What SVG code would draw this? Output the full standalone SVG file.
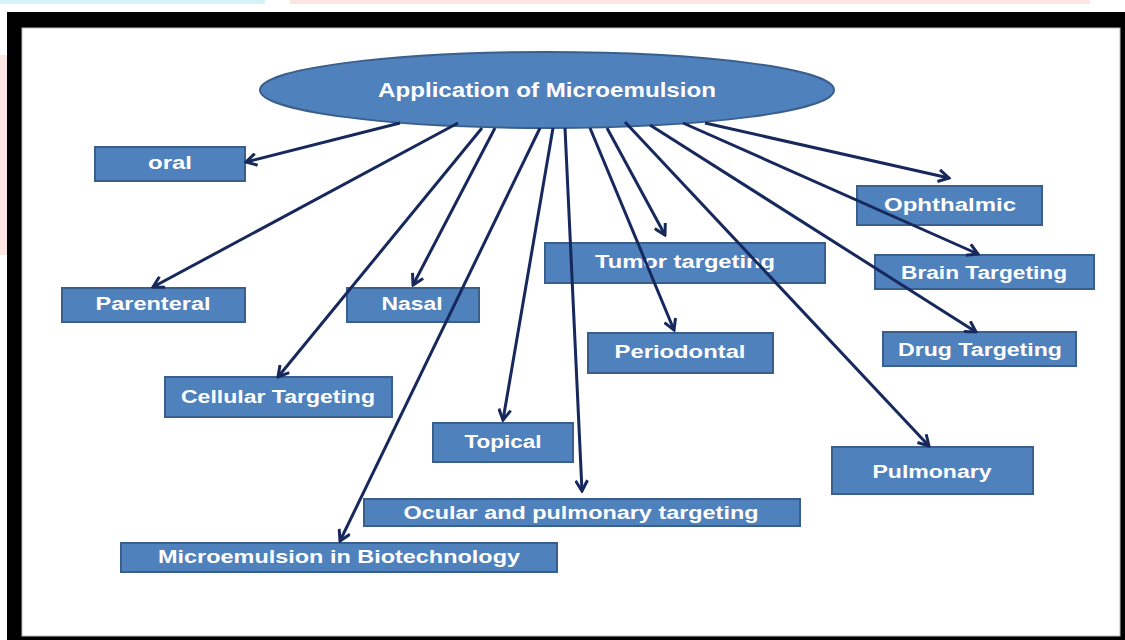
<svg xmlns="http://www.w3.org/2000/svg" width="1125" height="640" viewBox="0 0 1125 640">
  <defs>
    <style>
      .box { fill: #4F81BD; stroke: #3A5F8C; stroke-width: 2; }
      .lbl { font-family: "Liberation Sans", Arial, sans-serif; font-size: 18px; font-weight: bold; fill: #FFFFFF; text-anchor: middle; }
      .title { font-family: "Liberation Sans", Arial, sans-serif; font-size: 20px; font-weight: bold; fill: #FFFFFF; text-anchor: middle; }
      .conn { stroke: #16285C; stroke-width: 3; fill: none; marker-end: url(#arrow); }
    </style>
    <marker id="arrow" viewBox="0 0 14 14" refX="12" refY="7" markerWidth="14" markerHeight="14" markerUnits="userSpaceOnUse" orient="auto">
      <path d="M1.5,1 L12,7 L1.5,13" fill="none" stroke="#16285C" stroke-width="3" stroke-linejoin="miter"/>
    </marker>
  </defs>

  <!-- page background and frame -->
  <rect x="0" y="0" width="1125" height="640" fill="#FFFFFF"/>
  <rect x="0" y="0" width="265" height="4" fill="#D6F3FA"/>
  <rect x="290" y="0" width="800" height="4" fill="#FCE6E1"/>
  <rect x="0" y="55" width="7" height="200" fill="#FCE6E4"/>
  <rect x="7" y="12" width="1118" height="628" fill="#000000"/>
  <rect x="22" y="28" width="1098" height="608" fill="#FFFFFF" stroke="#BBBBBB" stroke-width="1"/>

  <g id="root">
    <ellipse cx="547" cy="90" rx="287" ry="38" class="box"/>
    <text x="547" y="97" class="title" textLength="338" lengthAdjust="spacingAndGlyphs">Application of Microemulsion</text>
  </g>

  <g id="oral">
    <rect x="95" y="147" width="150" height="34" class="box"/>
    <text x="170" y="169" class="lbl" textLength="44" lengthAdjust="spacingAndGlyphs">oral</text>
  </g>
  <g id="parenteral">
    <rect x="62" y="288" width="183" height="34" class="box"/>
    <text x="153" y="310" class="lbl" textLength="115" lengthAdjust="spacingAndGlyphs">Parenteral</text>
  </g>
  <g id="nasal">
    <rect x="347" y="288" width="132" height="34" class="box"/>
    <text x="412" y="310" class="lbl" textLength="61" lengthAdjust="spacingAndGlyphs">Nasal</text>
  </g>
  <g id="cellular">
    <rect x="165" y="377" width="227" height="40" class="box"/>
    <text x="278" y="403" class="lbl" textLength="194" lengthAdjust="spacingAndGlyphs">Cellular Targeting</text>
  </g>
  <g id="topical">
    <rect x="433" y="423" width="140" height="39" class="box"/>
    <text x="503" y="448" class="lbl" textLength="77" lengthAdjust="spacingAndGlyphs">Topical</text>
  </g>
  <g id="ocular">
    <rect x="364" y="499" width="436" height="27" class="box"/>
    <text x="581" y="519" class="lbl" textLength="355" lengthAdjust="spacingAndGlyphs">Ocular and pulmonary targeting</text>
  </g>
  <g id="biotech">
    <rect x="121" y="543" width="436" height="29" class="box"/>
    <text x="339" y="563" class="lbl" textLength="362" lengthAdjust="spacingAndGlyphs">Microemulsion in Biotechnology</text>
  </g>
  <g id="tumor">
    <rect x="545" y="243" width="280" height="40" class="box"/>
    <text x="685" y="268" class="lbl" textLength="180" lengthAdjust="spacingAndGlyphs">Tumor targeting</text>
  </g>
  <g id="periodontal">
    <rect x="588" y="333" width="185" height="40" class="box"/>
    <text x="680" y="358" class="lbl" textLength="131" lengthAdjust="spacingAndGlyphs">Periodontal</text>
  </g>
  <g id="ophthalmic">
    <rect x="857" y="186" width="185" height="39" class="box"/>
    <text x="950" y="211" class="lbl" textLength="132" lengthAdjust="spacingAndGlyphs">Ophthalmic</text>
  </g>
  <g id="brain">
    <rect x="875" y="255" width="219" height="34" class="box"/>
    <text x="984" y="279" class="lbl" textLength="166" lengthAdjust="spacingAndGlyphs">Brain Targeting</text>
  </g>
  <g id="drug">
    <rect x="883" y="332" width="193" height="34" class="box"/>
    <text x="980" y="356" class="lbl" textLength="164" lengthAdjust="spacingAndGlyphs">Drug Targeting</text>
  </g>
  <g id="pulmonary">
    <rect x="832" y="447" width="201" height="47" class="box"/>
    <text x="932" y="478" class="lbl" textLength="119" lengthAdjust="spacingAndGlyphs">Pulmonary</text>
  </g>

  <g id="connectors">
    <line x1="400" y1="123" x2="246" y2="162" class="conn"/>
    <line x1="458" y1="123" x2="153" y2="287" class="conn"/>
    <line x1="482" y1="128" x2="278" y2="377" class="conn"/>
    <line x1="495" y1="128" x2="413" y2="285" class="conn"/>
    <line x1="540" y1="128" x2="340" y2="541" class="conn"/>
    <line x1="553" y1="128" x2="503" y2="420" class="conn"/>
    <line x1="565" y1="128" x2="582" y2="491" class="conn"/>
    <line x1="590" y1="128" x2="674" y2="330" class="conn"/>
    <line x1="607" y1="128" x2="665" y2="235" class="conn"/>
    <line x1="625" y1="122" x2="929" y2="446" class="conn"/>
    <line x1="650" y1="125" x2="976" y2="332" class="conn"/>
    <line x1="683" y1="123" x2="978" y2="254" class="conn"/>
    <line x1="705" y1="123" x2="949" y2="178" class="conn"/>
  </g>
</svg>
